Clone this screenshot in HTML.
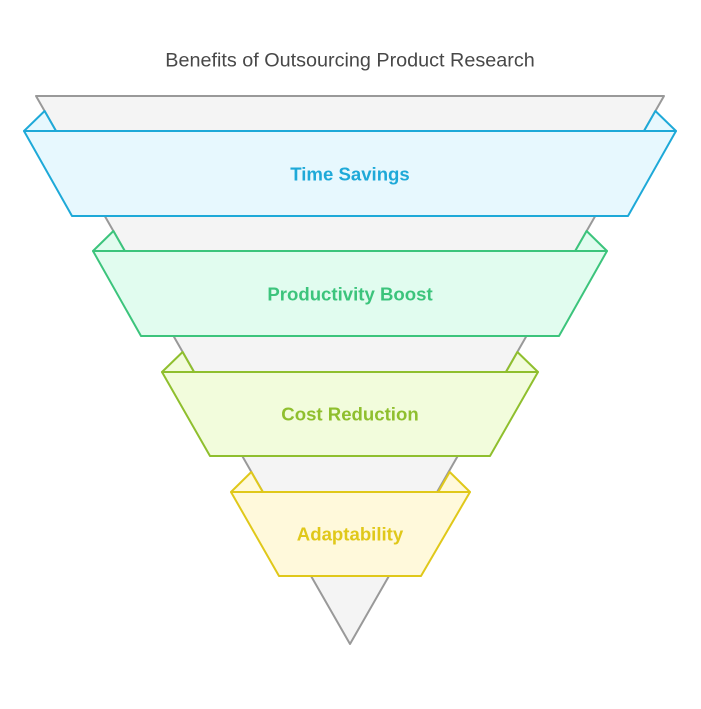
<!DOCTYPE html>
<html><head><meta charset="utf-8"><style>
html,body{margin:0;padding:0;background:#fff;}
svg{display:block;}
text{font-family:"Liberation Sans",Arial,sans-serif;}
</style></head><body>
<svg width="701" height="709" viewBox="0 0 701 709" xmlns="http://www.w3.org/2000/svg">
<text x="350" y="66.5" text-anchor="middle" font-size="19.8" fill="#484848">Benefits of Outsourcing Product Research</text>
<polygon points="36,96 664,96 350,644" fill="#f4f4f4" stroke="#999" stroke-width="2" stroke-linejoin="round"/>

<g stroke="#1ea9d8" stroke-width="2" stroke-linejoin="round" fill="#e7f8fe">
<polygon points="24,131 44.6,111 56,131"/>
<polygon points="676,131 655.4,111 644,131"/>
<polygon points="24,131 676,131 628,216 72,216"/>
</g>
<text x="350" y="180.5" text-anchor="middle" font-size="18.6" font-weight="bold" fill="#1ea9d8">Time Savings</text>

<g stroke="#3cc47c" stroke-width="2" stroke-linejoin="round" fill="#e1fcef">
<polygon points="93,251 113.4,231 124.8,251"/>
<polygon points="607,251 586.6,231 575.2,251"/>
<polygon points="93,251 607,251 559,336 141,336"/>
</g>
<text x="350" y="300.5" text-anchor="middle" font-size="18.6" font-weight="bold" fill="#3cc47c">Productivity Boost</text>

<g stroke="#8fbf2e" stroke-width="2" stroke-linejoin="round" fill="#f2fcdc">
<polygon points="162,372 182.6,352 194,372"/>
<polygon points="538,372 517.4,352 506,372"/>
<polygon points="162,372 538,372 490,456 210,456"/>
</g>
<text x="350" y="420.5" text-anchor="middle" font-size="18.6" font-weight="bold" fill="#8fbf2e">Cost Reduction</text>

<g stroke="#e0c81a" stroke-width="2" stroke-linejoin="round" fill="#fff9db">
<polygon points="231,492 251.3,472 262.8,492"/>
<polygon points="470,492 449.7,472 438.2,492"/>
<polygon points="231,492 470,492 421,576 279,576"/>
</g>
<text x="350" y="540.5" text-anchor="middle" font-size="18.6" font-weight="bold" fill="#e0c81a">Adaptability</text>
</svg>
</body></html>
